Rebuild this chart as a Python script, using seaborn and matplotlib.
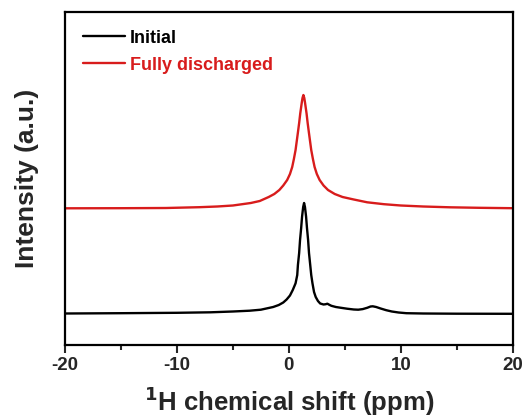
import matplotlib
matplotlib.use("Agg")
import matplotlib.pyplot as plt
import seaborn as sns
import pandas as pd
from matplotlib.ticker import MultipleLocator

# Data (chemical shift in ppm, intensity in arbitrary units)
initial_x = [-20, -15, -10, -7, -5, -3.5, -2.5, -1.4, -0.9, -0.5, -0.2, 0.1, 0.35,
             0.6, 0.75, 0.81, 0.92, 1.0, 1.1, 1.18, 1.28, 1.36, 1.44, 1.54, 1.62, 1.72,
             1.8, 1.91, 2.0, 2.11, 2.25, 2.4, 2.6, 2.8, 3.1, 3.3, 3.44, 3.6, 3.8, 4.2,
             4.6, 5.2, 5.8, 6.2, 6.6, 7.0, 7.3, 7.5, 7.8, 8.2, 8.7, 9.2, 9.8, 10.5, 12,
             15, 20]
initial_y = [31.5, 31.8, 32.2, 32.7, 33.5, 34.3, 35.3, 38, 40, 42.5, 45.5, 49.5, 55,
             61.7, 70, 80, 92, 105, 117, 128.3, 138, 142, 138, 128.3, 117, 105,
             92, 80, 70, 61.7, 53, 48, 44, 41.5, 40.5, 40.8, 41.3, 40.3, 39.2, 38.0,
             37.3, 36.3, 35.5, 35.3, 35.9, 37.2, 38.5, 38.7, 38, 36.5, 34.8, 33.5, 32.5,
             31.8, 31.5, 31.3, 31.2]

discharged_x = [-20, -15, -11, -8, -6.4, -5, -3.4, -2.6, -1.8, -1.3, -0.85, -0.5, -0.15,
                0.1, 0.3, 0.45, 0.6, 0.8, 0.92, 1.02, 1.15, 1.22, 1.3, 1.38, 1.45, 1.58,
                1.68, 1.8, 2.0, 2.15, 2.3, 2.5, 2.75, 3.1, 3.5, 4.1, 4.8, 5.8, 7.0, 8.5,
                10, 12, 14.4, 17, 20]
discharged_y = [136.7, 136.8, 137, 137.8, 138.5, 139.5, 142, 144, 148, 151, 155, 159.5,
                165, 171, 178, 186, 195, 211.7, 222, 231.7, 242, 247, 250, 247, 242,
                231.7, 222, 211.7, 195, 186, 178, 171, 165, 159.5, 155, 151, 148, 145.5,
                142.7, 140.8, 139.5, 138.5, 137.7, 137.2, 136.8]

series_names = ["Initial", "Fully discharged"]
series_colors = ["#000000", "#d81c1c"]
x_ticks = [-20, -10, 0, 10, 20]

df = pd.concat([
    pd.DataFrame({"shift": initial_x, "intensity": initial_y, "sample": series_names[0]}),
    pd.DataFrame({"shift": discharged_x, "intensity": discharged_y, "sample": series_names[1]}),
])

sns.set_style("ticks")
plt.rcParams["font.family"] = ["Liberation Sans", "DejaVu Sans"]
plt.rcParams["font.weight"] = "bold"

fig = plt.figure(figsize=(5.26, 4.18), dpi=100)
ax = fig.add_axes([65 / 526, 73 / 418, 447.7 / 526, 333 / 418])

sns.lineplot(data=df, x="shift", y="intensity", hue="sample", hue_order=series_names,
             palette=series_colors, linewidth=1.7, ax=ax, sort=False, estimator=None)

ax.set_xlim(-20, 20)
ax.set_ylim(0, 333)
ax.set_xticks(x_ticks)
ax.set_xticklabels([str(t) for t in x_ticks], fontsize=13.5, fontweight="bold")
ax.xaxis.set_minor_locator(MultipleLocator(5))
ax.set_yticks([])
ax.tick_params(axis="x", which="major", direction="out", length=6, width=1.5, pad=3)
ax.tick_params(axis="x", which="minor", direction="out", length=3.5, width=1.5)
for sp in ax.spines.values():
    sp.set_linewidth(1.6)
    sp.set_color("black")

ax.set_xlabel("$\\mathbf{^{1}}$H chemical shift (ppm)", fontsize=18.5, fontweight="bold", labelpad=7)
ax.set_ylabel("Intensity (a.u.)", fontsize=19, fontweight="bold", labelpad=19)

leg = ax.legend(loc="upper left", bbox_to_anchor=(0.012, 0.985), frameon=False,
                fontsize=13, handlelength=2.3, handletextpad=0.3, labelspacing=0.55,
                borderaxespad=0.3)
for txt, col in zip(leg.get_texts(), series_colors):
    txt.set_color(col)
    txt.set_fontweight("bold")
for line in leg.get_lines():
    line.set_linewidth(1.7)

fig.savefig("out.png", dpi=100)
